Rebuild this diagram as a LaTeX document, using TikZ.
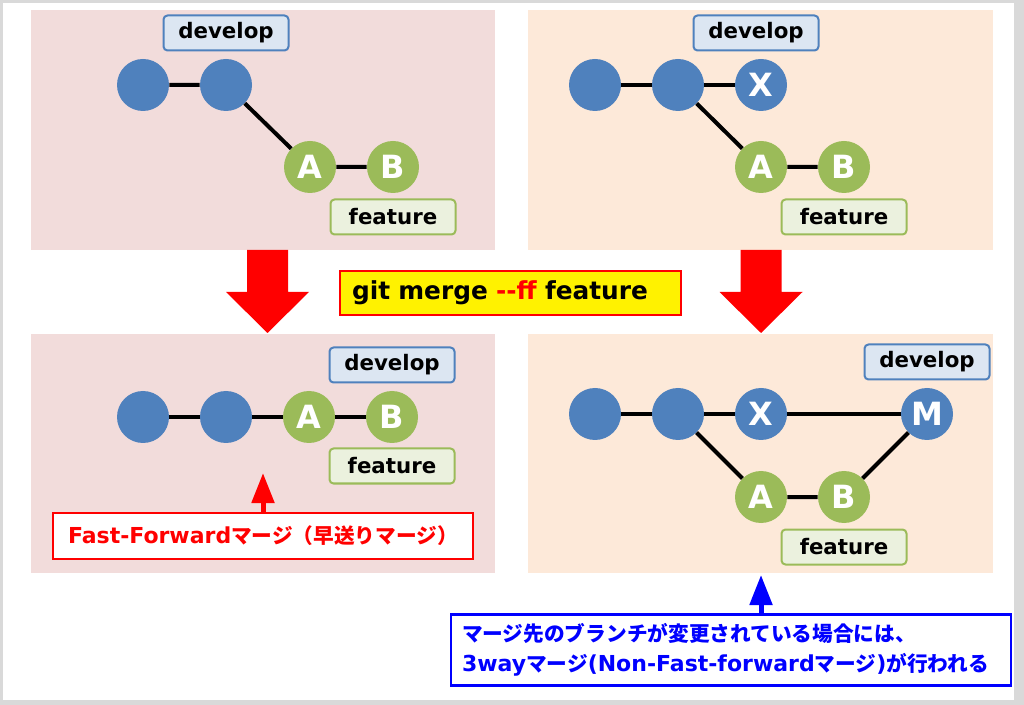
\documentclass[tikz,border=0pt]{standalone}
\usepackage{fontspec}
\setmainfont{DejaVu Sans}
\newfontfamily\jp{Noto Sans CJK JP}[Scale=0.94]
\usetikzlibrary{positioning,arrows.meta}

\definecolor{devblue}{HTML}{4F81BD}
\definecolor{featgreen}{HTML}{9BBB59}
\definecolor{devfill}{HTML}{DCE6F2}
\definecolor{featfill}{HTML}{EBF1DE}
\definecolor{ffpanel}{HTML}{F2DCDB}
\definecolor{nffpanel}{HTML}{FDE9D9}
\definecolor{framegray}{HTML}{D9D9D9}

\tikzset{
  commit/.style={circle, on grid, minimum size=39pt, inner sep=0pt, text=white,
    font=\bfseries\fontsize{24}{24}\selectfont},
  devcommit/.style={commit, fill=devblue},
  featcommit/.style={commit, fill=featgreen},
  link/.style={line width=3pt},
  branch/.style={on grid, rounded corners=3pt, line width=1.5pt, minimum width=93.75pt,
    minimum height=26.25pt, inner sep=0pt, font=\bfseries\fontsize{16}{16}\selectfont},
  devlabel/.style={branch, draw=devblue, fill=devfill},
  featlabel/.style={branch, draw=featgreen, fill=featfill},
  cmdbox/.style={draw=red, fill=yellow, line width=1.5pt, inner xsep=9pt, text width=237.75pt,
    align=left, minimum height=33pt, font=\bfseries\fontsize{18.6}{18.6}\selectfont},
  notebox/.style={fill=white, line width=1.5pt, inner sep=0pt,
    font=\bfseries\fontsize{16.5}{22.5}\selectfont},
  pointer/.style={line width=3.75pt, -{Triangle[length=22.5pt, width=16.5pt]}}
}

\begin{document}
\begin{tikzpicture}[x=0.75pt, y=-0.75pt]
  % frame
  \fill[framegray] (0,0) rectangle (1024,705);
  \fill[white] (3,3) rectangle (1014,700);
  \useasboundingbox (0,0) rectangle (1024,705);

  % panels
  \fill[ffpanel] (31,10) rectangle (495,250);
  \fill[nffpanel] (528,10) rectangle (993,250);
  \fill[ffpanel] (31,334) rectangle (495,573);
  \fill[nffpanel] (528,334) rectangle (993,573);

  % before, left
  \node[devcommit] (p1) at (143,85) {};
  \node[devcommit, right=62.25pt of p1] (p2) {};
  \node[featcommit, below right=61.5pt and 63pt of p2] (pa) {A};
  \node[featcommit, right=62.25pt of pa] (pb) {B};
  \node[devlabel, above=39pt of p2] (pdev) {develop};
  \node[featlabel, below=37.5pt of pb] (pfeat) {feature};
  \draw[link] (p1) -- (p2) -- (pa) -- (pb);

  % before, right
  \node[devcommit] (q1) at (595,85) {};
  \node[devcommit, right=62.25pt of q1] (q2) {};
  \node[devcommit, right=62.25pt of q2] (qx) {X};
  \node[featcommit, below=61.5pt of qx] (qa) {A};
  \node[featcommit, right=62.25pt of qa] (qb) {B};
  \node[devlabel, above=39pt of qx, xshift=-3.75pt] (qdev) {develop};
  \node[featlabel, below=37.5pt of qb] (qfeat) {feature};
  \draw[link] (q1) -- (q2) -- (qx);
  \draw[link] (q2) -- (qa) -- (qb);

  % command
  \foreach \cx in {267.5,761}
    \fill[red] (\cx-20.5,250) -- (\cx+20.5,250) -- (\cx+20.5,292) -- (\cx+41.5,292)
      -- (\cx,333) -- (\cx-41.5,292) -- (\cx-20.5,292) -- cycle;
  \node[cmdbox] (cmd) at (510.5,293) {git merge \textcolor{red}{-{}-ff} feature};

  % after, fast-forward
  \node[devcommit] (r1) at (143,417) {};
  \node[devcommit, right=62.25pt of r1] (r2) {};
  \node[featcommit, right=62.25pt of r2] (ra) {A};
  \node[featcommit, right=62.25pt of ra] (rb) {B};
  \node[devlabel, above=39pt of rb] (rdev) {develop};
  \node[featlabel, below=36.75pt of rb] (rfeat) {feature};
  \draw[link] (r1) -- (r2) -- (ra) -- (rb);

  \node[notebox, draw=red, text=red, minimum width=315pt, minimum height=34.5pt]
    (ffnote) at (263,536) {Fast-Forward{\jp マージ（早送りマージ）}};
  \coordinate (fftip) at (263,473);
  \draw[pointer, red] (ffnote.north) -- (fftip);

  % after, 3way
  \node[devcommit] (s1) at (595,414) {};
  \node[devcommit, right=62.25pt of s1] (s2) {};
  \node[devcommit, right=62.25pt of s2] (sx) {X};
  \node[devcommit, right=124.5pt of sx] (sm) {M};
  \node[featcommit, below=62.25pt of sx] (sa) {A};
  \node[featcommit, right=62.25pt of sa] (sb) {B};
  \node[devlabel, above=39pt of sm] (sdev) {develop};
  \node[featlabel, below=37.5pt of sb] (sfeat) {feature};
  \draw[link] (s1) -- (s2) -- (sx) -- (sm);
  \draw[link] (s2) -- (sa) -- (sb) -- (sm);

  \node[notebox, draw=blue, text=blue, line width=2pt, minimum width=420pt,
    minimum height=53pt, text width=403.5pt, align=left] (nffnote) at (731,650)
    {{\jp マージ先のブランチが変更されている場合には、}\\
     3way{\jp マージ}(Non-Fast-forward{\jp マージ}){\jp が行われる}};
  \coordinate (nfftip) at (761,575);
  \draw[pointer, blue] (nfftip |- nffnote.north) -- (nfftip);
\end{tikzpicture}
\end{document}
